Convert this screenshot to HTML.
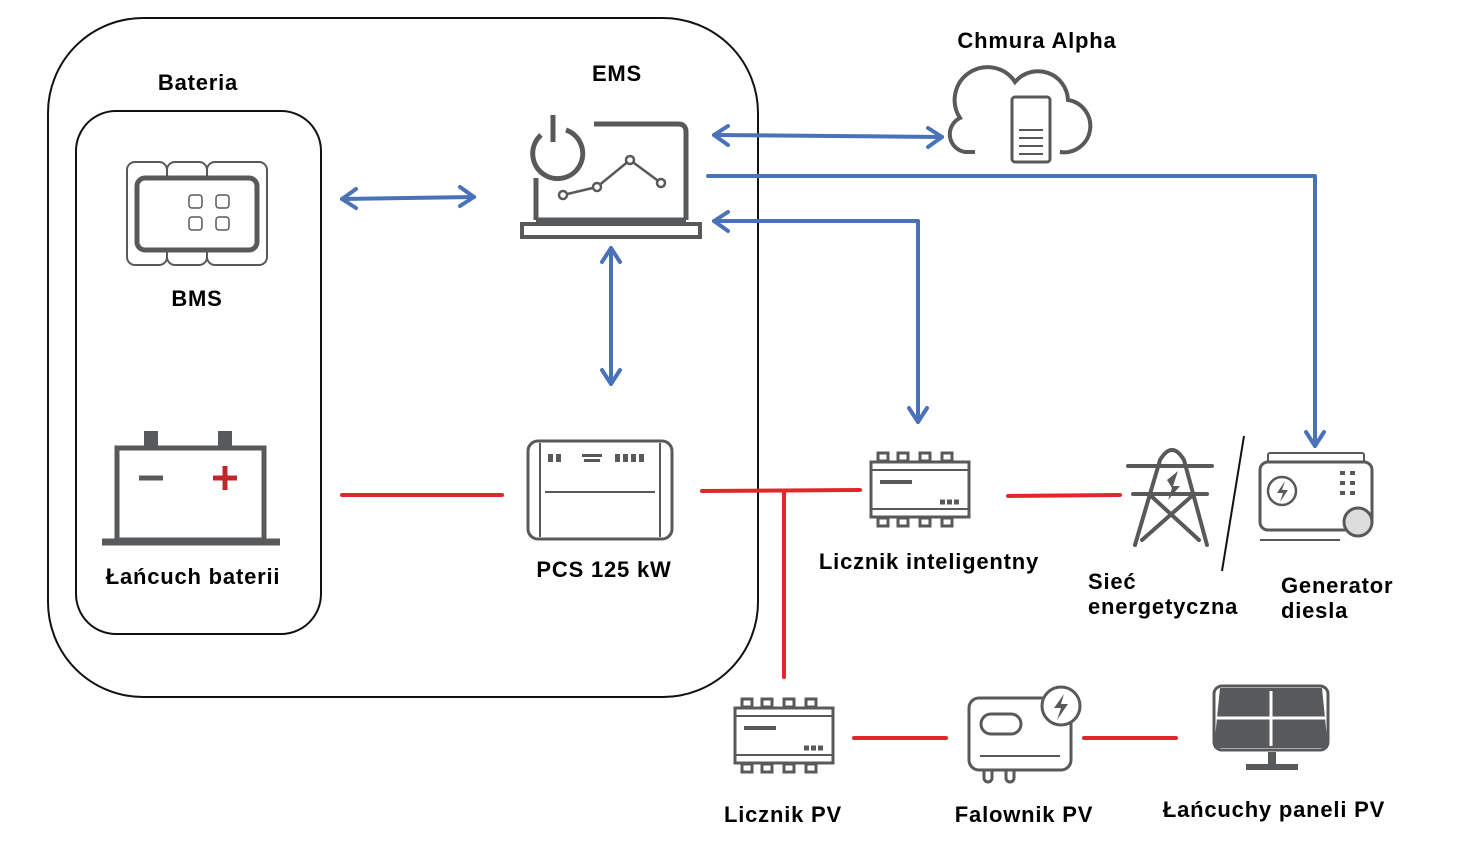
<!DOCTYPE html>
<html><head><meta charset="utf-8"><style>
body{margin:0;background:#fff;}
svg{display:block}
text{font-family:"Liberation Sans",sans-serif;font-weight:bold;fill:#000;font-size:22px;letter-spacing:0.8px}
</style></head><body>
<svg width="1484" height="844" viewBox="0 0 1484 844">
<!-- containers -->
<rect x="48" y="18" width="710" height="679" rx="95" fill="none" stroke="#111" stroke-width="2"/>
<rect x="76" y="111" width="245" height="523" rx="40" fill="none" stroke="#111" stroke-width="2"/>

<!-- blue connectors -->
<g stroke="#4a72b8" stroke-width="4" fill="none" stroke-linecap="round" stroke-linejoin="round">
<line x1="342" y1="199" x2="474" y2="197"/>
<polyline points="356,189 342,199 356,208"/><polyline points="460,187 474,197 460,206"/>
<line x1="714" y1="135" x2="942" y2="137"/>
<polyline points="728,126 714,135 728,145"/><polyline points="928,128 942,137 928,147"/>
<polyline points="708,176 1315,176 1315,446"/>
<polyline points="1306,432 1315,446 1324,432"/>
<polyline points="714,221 918,221 918,422"/>
<polyline points="728,212 714,221 728,231"/><polyline points="909,408 918,422 927,408"/>
<line x1="611" y1="248" x2="611" y2="384"/>
<polyline points="602,262 611,248 620,262"/><polyline points="602,370 611,384 620,370"/>
</g>

<!-- red connectors -->
<g stroke="#e2262a" stroke-width="4" fill="none" stroke-linecap="round">
<line x1="342" y1="495" x2="502" y2="495"/>
<line x1="702" y1="491" x2="860" y2="490"/>
<line x1="784" y1="491" x2="784" y2="677"/>
<line x1="1008" y1="496" x2="1120" y2="495"/>
<line x1="854" y1="738" x2="946" y2="738"/>
<line x1="1084" y1="738" x2="1176" y2="738"/>
</g>
<line x1="1244" y1="436" x2="1222" y2="571" stroke="#111" stroke-width="2"/>

<g stroke="#58595b" fill="none" stroke-width="4">
<!-- BMS -->
<rect x="127" y="162" width="40" height="103" rx="8" stroke-width="2"/>
<rect x="167" y="162" width="40" height="103" rx="8" stroke-width="2"/>
<rect x="207" y="162" width="60" height="103" rx="8" stroke-width="2"/>
<rect x="137" y="178" width="120" height="72" rx="8" fill="#fff" stroke-width="5"/>
<g stroke-width="1.5"><rect x="189" y="195" width="13" height="13" rx="3"/><rect x="216" y="195" width="13" height="13" rx="3"/><rect x="189" y="217" width="13" height="13" rx="3"/><rect x="216" y="217" width="13" height="13" rx="3"/></g>
<!-- battery -->
<rect x="117" y="448" width="147" height="92" stroke-width="5"/>
<line x1="102" y1="542" x2="280" y2="542" stroke-width="7"/>
<line x1="139" y1="478" x2="163" y2="478" stroke-width="5"/>
<!-- EMS laptop -->
<path d="M541,135 A25,25 0 1,0 566,130" stroke-width="5"/>
<line x1="553" y1="115" x2="553" y2="142" stroke-width="5"/>
<path d="M594,124 L678,124 Q686,124 686,132 L686,220" stroke-width="5"/>
<line x1="536" y1="178" x2="536" y2="220" stroke-width="5"/>
<line x1="536" y1="220" x2="686" y2="220" stroke-width="5"/>
<rect x="522" y="224" width="178" height="13" stroke-width="4"/>
<polyline points="563,195 597,187 630,160 661,183" stroke-width="2.5"/>
<g stroke-width="2.5" fill="#fff"><circle cx="563" cy="195" r="4"/><circle cx="597" cy="187" r="4"/><circle cx="630" cy="160" r="4"/><circle cx="661" cy="183" r="4"/></g>
<!-- PCS -->
<rect x="528" y="441" width="144" height="98" rx="10" stroke-width="3"/>
<line x1="540" y1="443" x2="540" y2="537" stroke-width="2"/><line x1="660" y1="443" x2="660" y2="537" stroke-width="2"/>
<line x1="545" y1="492" x2="655" y2="492" stroke-width="2"/>
<!-- cloud -->
<path d="M975,152 L965,152 A18,18 0 0,1 960,118 A32,32 0 0,1 1015,82 A30,30 0 0,1 1068,100 A26,26 0 0,1 1060,152 L1062,152" stroke-width="4"/>
<rect x="1012" y="97" width="38" height="65" rx="3" fill="#fff" stroke-width="3"/>
<g stroke-width="2"><line x1="1019" y1="130" x2="1043" y2="130"/><line x1="1019" y1="138" x2="1043" y2="138"/><line x1="1019" y1="146" x2="1043" y2="146"/><line x1="1019" y1="154" x2="1043" y2="154"/></g>
<!-- meters -->
<g id="m1">
<rect x="871" y="462" width="98" height="55" stroke-width="3"/>
<line x1="871" y1="470" x2="969" y2="470" stroke-width="2"/><line x1="871" y1="509" x2="969" y2="509" stroke-width="2"/>
<g stroke-width="3"><rect x="878" y="453" width="10" height="8"/><rect x="898" y="453" width="10" height="8"/><rect x="920" y="453" width="10" height="8"/><rect x="942" y="453" width="10" height="8"/>
<rect x="878" y="518" width="10" height="8"/><rect x="898" y="518" width="10" height="8"/><rect x="920" y="518" width="10" height="8"/><rect x="942" y="518" width="10" height="8"/></g>
<line x1="880" y1="482" x2="912" y2="482" stroke-width="4"/>
<line x1="940" y1="502" x2="960" y2="502" stroke-width="5" stroke-dasharray="5,2"/>
</g>
<use href="#m1" transform="translate(-136,246)"/>
<!-- tower -->
<g stroke-width="4" stroke-linecap="round">
<path d="M1135,545 L1160,460 Q1172,440 1184,460 L1207,545"/>
<line x1="1128" y1="466" x2="1212" y2="466"/><line x1="1133" y1="494" x2="1207" y2="494"/>
<path d="M1150,495 L1199,540 M1193,495 L1142,540"/>
</g>
<!-- generator -->
<rect x="1260" y="462" width="112" height="68" rx="8" stroke-width="3"/>
<rect x="1268" y="453" width="96" height="9" rx="2" stroke-width="2"/>
<circle cx="1282" cy="491" r="14" stroke-width="2.5"/>
<circle cx="1358" cy="522" r="14" stroke-width="3" fill="#ddd"/>
<line x1="1260" y1="540" x2="1340" y2="540" stroke-width="2"/>
<!-- inverter -->
<rect x="969" y="698" width="102" height="72" rx="10" stroke-width="3"/>
<rect x="981" y="714" width="40" height="20" rx="10" stroke-width="3"/>
<line x1="980" y1="756" x2="1060" y2="756" stroke-width="2"/>
<circle cx="1061" cy="706" r="19" fill="#fff" stroke-width="3"/>
<path d="M984,770 v8 a4,4 0 0,0 8,0 v-8 M1006,770 v8 a4,4 0 0,0 8,0 v-8" stroke-width="3"/>
</g>
<!-- fills -->
<g fill="#58595b">
<rect x="144" y="431" width="14" height="16"/><rect x="218" y="431" width="14" height="16"/>
<rect x="1340" y="471" width="5" height="4"/><rect x="1350" y="471" width="5" height="4"/>
<rect x="1340" y="481" width="5" height="4"/><rect x="1350" y="481" width="5" height="4"/>
<rect x="1340" y="491" width="5" height="4"/><rect x="1350" y="491" width="5" height="4"/>
<path d="M1220,688 L1322,688 L1328,748 L1214,748 Z"/>
<rect x="1268" y="752" width="8" height="14"/><rect x="1246" y="764" width="52" height="6"/>
<path d="M1167,480 L1178,471 L1173,486 L1180,486 L1168,500 L1172,488 Z"/>
<path d="M1285,481 L1277,493 L1283,493 L1280,502 L1288,490 L1282,490 Z"/>
<path d="M1064,694 L1054,708 L1061,708 L1057,720 L1068,704 L1061,704 Z"/>
<rect x="548" y="454" width="5" height="8"/><rect x="556" y="454" width="5" height="8"/>
<rect x="582" y="454" width="20" height="3"/><rect x="584" y="459" width="16" height="3"/>
<rect x="615" y="454" width="5" height="8"/><rect x="623" y="454" width="5" height="8"/><rect x="631" y="454" width="5" height="8"/><rect x="639" y="454" width="5" height="8"/>
</g>
<g stroke="#fff" stroke-width="3"><line x1="1271" y1="691" x2="1271" y2="746"/><line x1="1217" y1="718" x2="1325" y2="718"/></g>
<rect x="1214" y="686" width="114" height="64" rx="8" fill="none" stroke="#58595b" stroke-width="3"/>
<g stroke="#c0262a" stroke-width="5"><line x1="213" y1="478" x2="237" y2="478"/><line x1="225" y1="466" x2="225" y2="490"/></g>

<!-- labels -->
<text x="198" y="90" text-anchor="middle">Bateria</text>
<text x="617" y="81" text-anchor="middle">EMS</text>
<text x="1037" y="48" text-anchor="middle">Chmura Alpha</text>
<text x="197" y="306" text-anchor="middle">BMS</text>
<text x="193" y="584" text-anchor="middle">Łańcuch baterii</text>
<text x="604" y="577" text-anchor="middle">PCS 125 kW</text>
<text x="929" y="569" text-anchor="middle">Licznik inteligentny</text>
<text x="1088" y="589">Sieć</text>
<text x="1088" y="614">energetyczna</text>
<text x="1281" y="593">Generator</text>
<text x="1281" y="618">diesla</text>
<text x="783" y="822" text-anchor="middle">Licznik PV</text>
<text x="1024" y="822" text-anchor="middle">Falownik PV</text>
<text x="1274" y="817" text-anchor="middle">Łańcuchy paneli PV</text>
</svg>
</body></html>
